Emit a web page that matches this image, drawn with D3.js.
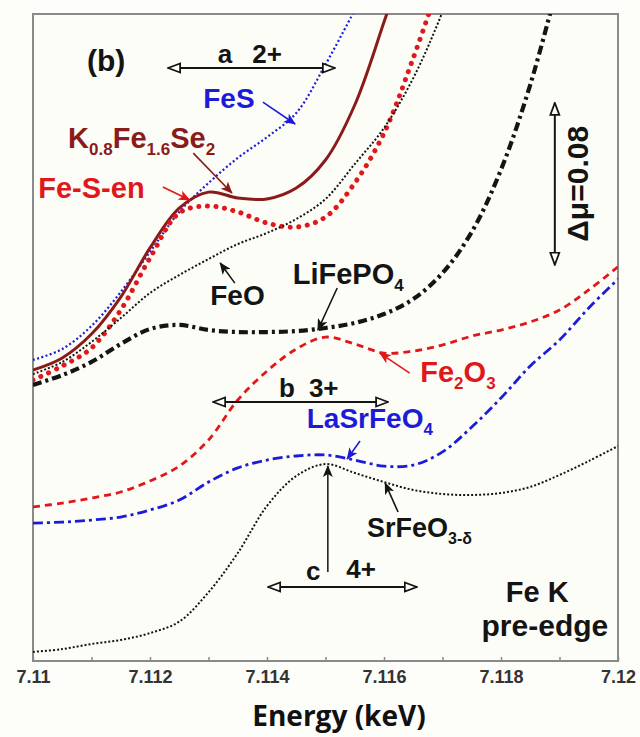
<!DOCTYPE html>
<html>
<head>
<meta charset="utf-8">
<script src="https://cdn.jsdelivr.net/npm/d3@7"></script>
<style>
  body { margin: 0; background: #fdfdfa; }
  text { font-family: "Liberation Sans", Arial, sans-serif; font-weight: bold; }
</style>
</head>
<body>
<svg id="chart"></svg>
<script>
// Energy grid (keV) shared by every spectrum
const energy = [7.1100, 7.1105, 7.1110, 7.1115, 7.1120, 7.1125, 7.1130, 7.1135, 7.1140, 7.1145,
  7.1150, 7.1155, 7.1160, 7.1165, 7.1170, 7.1175, 7.1180, 7.1185, 7.1190, 7.1195, 7.1200];

// Normalised absorption (offset); null = outside the frame
const muFeS = [0.1489, 0.1543, 0.1657, 0.1825, 0.2023, 0.2221, 0.2364, 0.2488, 0.2591, 0.2710,
  0.2950, 0.3220, null, null, null, null, null, null, null, null, null];
const muKFeSe = [0.1439, 0.1499, 0.1617, 0.1800, 0.2043, 0.2240, 0.2319, 0.2290, 0.2285, 0.2339,
  0.2478, 0.2750, 0.3160, 0.3600, null, null, null, null, null, null, null];
const muFeSen = [0.1390, 0.1459, 0.1548, 0.1736, 0.1993, 0.2216, 0.2250, 0.2221, 0.2166, 0.2146,
  0.2196, 0.2364, 0.2611, 0.2982, 0.3400, null, null, null, null, null, null];
const muFeO = [0.1419, 0.1479, 0.1578, 0.1696, 0.1820, 0.1909, 0.1988, 0.2062, 0.2117, 0.2186,
  0.2285, 0.2458, 0.2636, 0.2883, 0.3210, 0.3600, null, null, null, null, null];
const muLiFePO4 = [0.1365, 0.1414, 0.1479, 0.1568, 0.1642, 0.1662, 0.1637, 0.1627, 0.1627, 0.1632,
  0.1647, 0.1672, 0.1716, 0.1790, 0.1919, 0.2122, 0.2430, 0.2850, 0.3380, null, null];
const muFe2O3 = [0.0762, 0.0781, 0.0806, 0.0836, 0.0890, 0.0964, 0.1093, 0.1291, 0.1434, 0.1543,
  0.1602, 0.1568, 0.1523, 0.1533, 0.1563, 0.1607, 0.1637, 0.1677, 0.1736, 0.1835, 0.1950];
const muLaSrFeO4 = [0.0682, 0.0687, 0.0697, 0.0712, 0.0747, 0.0796, 0.0885, 0.0955, 0.0994, 0.1014,
  0.1019, 0.0994, 0.0964, 0.0969, 0.1034, 0.1157, 0.1301, 0.1459, 0.1588, 0.1746, 0.1889];
const muSrFeO3 = [0.0045, 0.0059, 0.0084, 0.0104, 0.0138, 0.0195, 0.0340, 0.0534, 0.0767, 0.0915,
  0.0974, 0.0930, 0.0885, 0.0846, 0.0826, 0.0821, 0.0831, 0.0861, 0.0920, 0.0989, 0.1063];

// Axis ticks
const minorTicks = d3.range(7.110, 7.1205, 0.001);
const majorTicks = [7.110, 7.112, 7.114, 7.116, 7.118, 7.120];

const BLUE = "#1c1cd8", RED = "#e0181c", DARKRED = "#8b1a1a", BLACK = "#141414";

const series = [
  { name: "FeS", mu: muFeS, color: BLUE, width: 2.2, dash: "2,2.4", cap: "butt" },
  { name: "K0.8Fe1.6Se2", mu: muKFeSe, color: DARKRED, width: 3, dash: null, cap: "butt" },
  { name: "Fe-S-en", mu: muFeSen, color: RED, width: 5, dash: "0.1,8.5", cap: "round" },
  { name: "FeO", mu: muFeO, color: BLACK, width: 2, dash: "2,2", cap: "butt" },
  { name: "LiFePO4", mu: muLiFePO4, color: BLACK, width: 4.2, dash: "9,4,3,4", cap: "butt" },
  { name: "Fe2O3", mu: muFe2O3, color: RED, width: 2.8, dash: "7,5", cap: "butt" },
  { name: "LaSrFeO4", mu: muLaSrFeO4, color: BLUE, width: 2.8, dash: "10,4,3,4", cap: "butt" },
  { name: "SrFeO3", mu: muSrFeO3, color: BLACK, width: 2, dash: "2,2", cap: "butt" }
];

const W = 640, H = 737;
const svg = d3.select("#chart").attr("width", W).attr("height", H);

const x = d3.scaleLinear().domain([7.11, 7.12]).range([33, 618]);
const y = d3.scaleLinear().domain([0, 0.32]).range([661, 14]);

const defs = svg.append("defs");
defs.append("clipPath").attr("id", "plot-clip")
  .append("rect")
  .attr("x", x(7.11)).attr("y", y(0.32))
  .attr("width", x(7.12) - x(7.11)).attr("height", y(0) - y(0.32));

// open triangle heads for the range arrows
defs.append("marker")
  .attr("id", "open-head")
  .attr("markerUnits", "userSpaceOnUse")
  .attr("viewBox", "0 0 14 12")
  .attr("refX", 13).attr("refY", 6)
  .attr("markerWidth", 14).attr("markerHeight", 12)
  .attr("orient", "auto-start-reverse")
  .append("path")
  .attr("d", "M1,1.5 L13,6 L1,10.5 Z")
  .attr("fill", "#fff").attr("stroke", BLACK).attr("stroke-width", 1.8);

// filled heads for the label pointers, one per colour
[["blue", BLUE], ["red", RED], ["darkred", DARKRED], ["black", BLACK]].forEach(([id, c]) => {
  defs.append("marker")
    .attr("id", "head-" + id)
    .attr("markerUnits", "userSpaceOnUse")
    .attr("viewBox", "0 0 12 10")
    .attr("refX", 11).attr("refY", 5)
    .attr("markerWidth", 12).attr("markerHeight", 10)
    .attr("orient", "auto")
    .append("path")
    .attr("d", "M0,0 L12,5 L0,10 L3,5 Z")
    .attr("fill", c);
});

// frame
svg.append("rect")
  .attr("x", x(7.11)).attr("y", y(0.32))
  .attr("width", x(7.12) - x(7.11)).attr("height", y(0) - y(0.32))
  .attr("fill", "#fdfdf8")
  .attr("stroke", "#8a8a8a").attr("stroke-width", 2);

// x axis with inward ticks
const xAxis = svg.append("g")
  .attr("transform", `translate(0,${y(0)})`)
  .call(d3.axisBottom(x)
    .tickValues(minorTicks)
    .tickSizeInner(-4)
    .tickSizeOuter(0)
    .tickPadding(9)
    .tickFormat((d) => {
      const isMajor = majorTicks.some((m) => Math.abs(m - d) < 1e-7);
      return isMajor ? String(+d.toFixed(3)) : "";
    }));
xAxis.select(".domain").remove();
xAxis.selectAll("line").attr("stroke", "#8a8a8a").attr("stroke-width", 1.5);
xAxis.selectAll("text")
  .style("font-size", "18px")
  .style("font-weight", "bold")
  .attr("fill", "#333");

svg.append("text")
  .attr("x", 339).attr("y", 726)
  .attr("text-anchor", "middle")
  .style("font-family", "'Open Sans', sans-serif")
  .style("font-size", "28px")
  .attr("fill", "#111")
  .text("Energy (keV)");

// spectra
const line = d3.line()
  .defined((d) => d[1] !== null)
  .x((d) => x(d[0]))
  .y((d) => y(d[1]))
  .curve(d3.curveCatmullRom.alpha(0.5));

const curves = svg.append("g").attr("clip-path", "url(#plot-clip)");
series.forEach((s) => {
  curves.append("path")
    .datum(energy.map((e, i) => [e, s.mu[i]]))
    .attr("fill", "none")
    .attr("stroke", s.color)
    .attr("stroke-width", s.width)
    .attr("stroke-dasharray", s.dash)
    .attr("stroke-linecap", s.cap)
    .attr("d", line);
});

// range arrows: [E1, E2, mu]
const rangeArrows = [
  [7.11231, 7.11516, 0.2933],
  [7.11308, 7.11607, 0.1281],
  [7.11402, 7.11656, 0.0366]
];
rangeArrows.forEach(([e1, e2, m]) => {
  svg.append("line")
    .attr("x1", x(e1)).attr("x2", x(e2))
    .attr("y1", y(m)).attr("y2", y(m))
    .attr("stroke", BLACK).attr("stroke-width", 2)
    .attr("marker-start", "url(#open-head)")
    .attr("marker-end", "url(#open-head)");
});

// delta mu scale bar
svg.append("line")
  .attr("x1", x(7.11892)).attr("x2", x(7.11892))
  .attr("y1", y(0.276)).attr("y2", y(0.196))
  .attr("stroke", BLACK).attr("stroke-width", 2)
  .attr("marker-start", "url(#open-head)")
  .attr("marker-end", "url(#open-head)");
svg.append("text")
  .attr("transform", `translate(${x(7.11930)},${y(0.2360)}) rotate(-90)`)
  .attr("text-anchor", "middle")
  .attr("dominant-baseline", "central")
  .style("font-size", "30px")
  .attr("fill", BLACK)
  .text("Δμ=0.08");

// vertical marker at the 4+ pre-edge peak
svg.append("line")
  .attr("x1", x(7.11504)).attr("x2", x(7.11504))
  .attr("y1", y(0.044)).attr("y2", y(0.0964))
  .attr("stroke", BLACK).attr("stroke-width", 1.5)
  .attr("marker-end", "url(#head-black)");

// label pointers: [E1, mu1, E2, mu2, colour id]
const pointers = [
  [7.11393, 0.2764, 7.11448, 0.2656, "blue"],
  [7.11274, 0.2512, 7.11340, 0.2315, "darkred"],
  [7.11222, 0.2344, 7.11268, 0.2280, "red"],
  [7.11345, 0.1869, 7.11320, 0.1968, "black"],
  [7.11520, 0.1845, 7.11487, 0.1637, "black"],
  [7.11644, 0.1424, 7.11593, 0.1523, "red"],
  [7.11559, 0.1088, 7.11537, 0.0999, "blue"],
  [7.11624, 0.0737, 7.11602, 0.0880, "black"]
];
const colorOf = { blue: BLUE, red: RED, darkred: DARKRED, black: BLACK };
pointers.forEach(([e1, m1, e2, m2, c]) => {
  svg.append("line")
    .attr("x1", x(e1)).attr("y1", y(m1))
    .attr("x2", x(e2)).attr("y2", y(m2))
    .attr("stroke", colorOf[c]).attr("stroke-width", 1.6)
    .attr("marker-end", `url(#head-${c})`);
});

// labels: [parts, E, mu, colour, size, anchor]; a part is [text, isSub]
const labels = [
  [[["(b)", false]], 7.11125, 0.2918, BLACK, 30, "middle"],
  [[["a", false]], 7.11328, 0.2957, BLACK, 26, "middle"],
  [[["2+", false]], 7.11400, 0.2957, BLACK, 26, "middle"],
  [[["FeS", false]], 7.11291, 0.2735, BLUE, 28, "start"],
  [[["K", false], ["0.8", true], ["Fe", false], ["1.6", true], ["Se", false], ["2", true]], 7.11060, 0.2537, DARKRED, 29, "start"],
  [[["Fe-S-en", false]], 7.11009, 0.2290, RED, 29, "start"],
  [[["FeO", false]], 7.11303, 0.1761, BLACK, 28, "start"],
  [[["LiFePO", false], ["4", true]], 7.11444, 0.1864, BLACK, 29, "start"],
  [[["Fe", false], ["2", true], ["O", false], ["3", true]], 7.11662, 0.1380, RED, 29, "start"],
  [[["b", false]], 7.11434, 0.1306, BLACK, 26, "middle"],
  [[["3+", false]], 7.11497, 0.1306, BLACK, 26, "middle"],
  [[["LaSrFeO", false], ["4", true]], 7.11468, 0.1152, BLUE, 28, "start"],
  [[["SrFeO", false], ["3-δ", true]], 7.11571, 0.0613, BLACK, 27, "start"],
  [[["c", false]], 7.11479, 0.0401, BLACK, 26, "middle"],
  [[["4+", false]], 7.11561, 0.0410, BLACK, 26, "middle"],
  [[["Fe K", false]], 7.11862, 0.0292, BLACK, 29, "middle"],
  [[["pre-edge", false]], 7.11875, 0.0124, BLACK, 30, "middle"]
];
labels.forEach(([parts, e, m, color, size, anchor]) => {
  const t = svg.append("text")
    .attr("x", x(e)).attr("y", y(m))
    .attr("text-anchor", anchor)
    .attr("fill", color)
    .style("font-size", size + "px");
  let shifted = false;
  parts.forEach(([str, isSub]) => {
    const sp = t.append("tspan").text(str);
    if (isSub && !shifted) { sp.attr("dy", 7).style("font-size", Math.round(size * 0.6) + "px"); shifted = true; }
    else if (!isSub && shifted) { sp.attr("dy", -7); shifted = false; }
  });
});
</script>
</body>
</html>
